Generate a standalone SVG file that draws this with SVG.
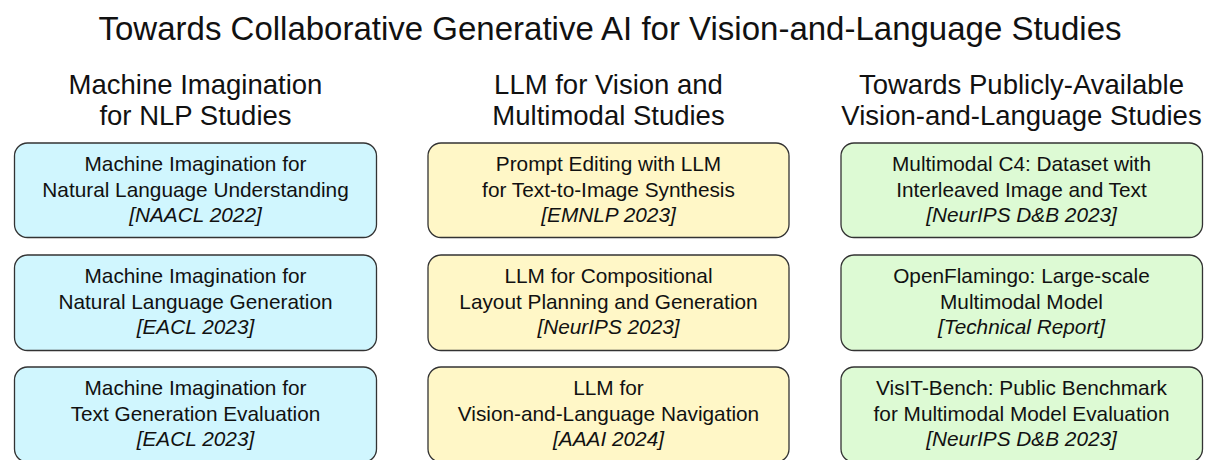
<svg xmlns="http://www.w3.org/2000/svg" width="1217" height="460" viewBox="0 0 1217 460">
  <style>
    text { font-family: "Liberation Sans", Arial, Helvetica, sans-serif; fill: #111; text-anchor: middle; }
    .title { font-size: 33px; }
    .head { font-size: 27.5px; }
    .body { font-size: 20.8px; }
    .venue { font-size: 20.8px; font-style: italic; }
    .box { stroke: #333; stroke-width: 1.3; }
    .nlp { fill: #D0F6FE; }
    .vis { fill: #FFF7C7; }
    .pub { fill: #DDFAD4; }
  </style>

  <text class="title" x="610" y="40">Towards Collaborative Generative AI for Vision-and-Language Studies</text>

  <!-- column headings -->
  <g id="col-nlp-head">
    <text class="head" x="195.5" y="93.5">Machine Imagination</text>
    <text class="head" x="195.5" y="124.5">for NLP Studies</text>
  </g>
  <g id="col-vis-head">
    <text class="head" x="608.5" y="93.5">LLM for Vision and</text>
    <text class="head" x="608.5" y="124.5">Multimodal Studies</text>
  </g>
  <g id="col-pub-head">
    <text class="head" x="1021.5" y="93.5">Towards Publicly-Available</text>
    <text class="head" x="1021.5" y="124.5">Vision-and-Language Studies</text>
  </g>

  <!-- column 1: machine imagination -->
  <g id="nlu">
    <rect class="box nlp" x="14.5" y="143" width="362" height="94.5" rx="13"/>
    <text class="body" x="195.5" y="171">Machine Imagination for</text>
    <text class="body" x="195.5" y="196.5">Natural Language Understanding</text>
    <text class="venue" x="195.5" y="222">[NAACL 2022]</text>
  </g>
  <g id="nlg">
    <rect class="box nlp" x="14.5" y="255" width="362" height="95.5" rx="13"/>
    <text class="body" x="195.5" y="283">Machine Imagination for</text>
    <text class="body" x="195.5" y="308.5">Natural Language Generation</text>
    <text class="venue" x="195.5" y="334">[EACL 2023]</text>
  </g>
  <g id="eval">
    <rect class="box nlp" x="14.5" y="367" width="362" height="95" rx="13"/>
    <text class="body" x="195.5" y="395">Machine Imagination for</text>
    <text class="body" x="195.5" y="420.5">Text Generation Evaluation</text>
    <text class="venue" x="195.5" y="446">[EACL 2023]</text>
  </g>

  <!-- column 2: LLM for vision -->
  <g id="prompt-edit">
    <rect class="box vis" x="428" y="143" width="361" height="94.5" rx="13"/>
    <text class="body" x="608.5" y="171">Prompt Editing with LLM</text>
    <text class="body" x="608.5" y="196.5">for Text-to-Image Synthesis</text>
    <text class="venue" x="608.5" y="222">[EMNLP 2023]</text>
  </g>
  <g id="layout">
    <rect class="box vis" x="428" y="255" width="361" height="95.5" rx="13"/>
    <text class="body" x="608.5" y="283">LLM for Compositional</text>
    <text class="body" x="608.5" y="308.5">Layout Planning and Generation</text>
    <text class="venue" x="608.5" y="334">[NeurIPS 2023]</text>
  </g>
  <g id="vln">
    <rect class="box vis" x="428" y="367" width="361" height="95" rx="13"/>
    <text class="body" x="608.5" y="395">LLM for</text>
    <text class="body" x="608.5" y="420.5">Vision-and-Language Navigation</text>
    <text class="venue" x="608.5" y="446">[AAAI 2024]</text>
  </g>

  <!-- column 3: publicly available -->
  <g id="mmc4">
    <rect class="box pub" x="841" y="143" width="361.5" height="94.5" rx="13"/>
    <text class="body" x="1021.5" y="171">Multimodal C4: Dataset with</text>
    <text class="body" x="1021.5" y="196.5">Interleaved Image and Text</text>
    <text class="venue" x="1021.5" y="222">[NeurIPS D&amp;B 2023]</text>
  </g>
  <g id="openflamingo">
    <rect class="box pub" x="841" y="255" width="361.5" height="95.5" rx="13"/>
    <text class="body" x="1021.5" y="283">OpenFlamingo: Large-scale</text>
    <text class="body" x="1021.5" y="308.5">Multimodal Model</text>
    <text class="venue" x="1021.5" y="334">[Technical Report]</text>
  </g>
  <g id="visit-bench">
    <rect class="box pub" x="841" y="367" width="361.5" height="95" rx="13"/>
    <text class="body" x="1021.5" y="395">VisIT-Bench: Public Benchmark</text>
    <text class="body" x="1021.5" y="420.5">for Multimodal Model Evaluation</text>
    <text class="venue" x="1021.5" y="446">[NeurIPS D&amp;B 2023]</text>
  </g>

  <g id="connectors"/>
</svg>
